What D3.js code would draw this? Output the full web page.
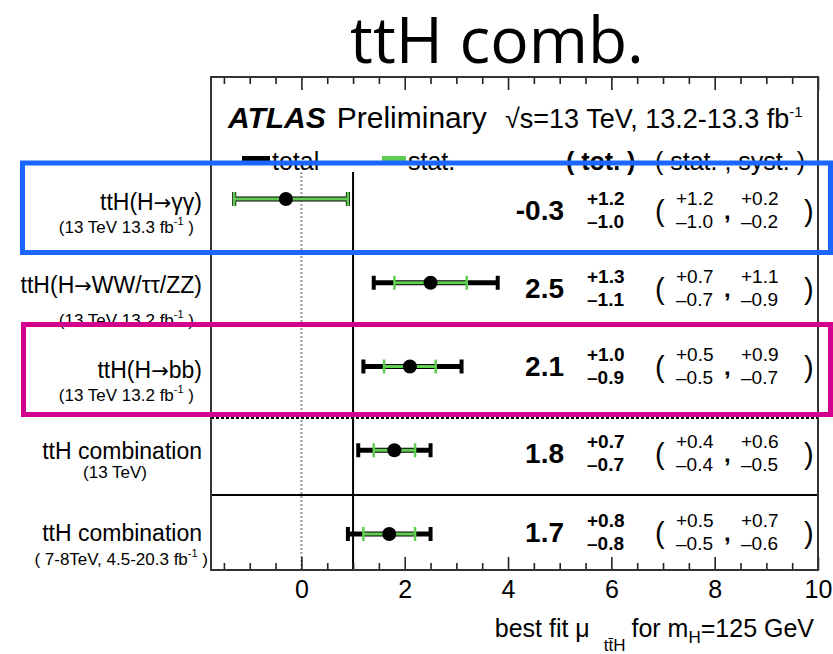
<!DOCTYPE html>
<html>
<head>
<meta charset="utf-8">
<script src="https://cdn.jsdelivr.net/npm/d3@7/dist/d3.min.js"></script>
<style>
  body { margin: 0; background: #fff; }
  svg { display: block; }
  text { font-family: "Liberation Sans", Arial, Helvetica, sans-serif; fill: #000; }
</style>
</head>
<body>
<svg id="chart" width="833" height="654"></svg>
<script>
// ttH signal-strength measurements, one row per channel
const channels = ["ttH(H→γγ)", "ttH(H→WW/ττ/ZZ)", "ttH(H→bb)", "ttH combination", "ttH combination"];
const channelNotes = ["(13 TeV 13.3 fb", "(13 TeV 13.2 fb", "(13 TeV 13.2 fb", "(13 TeV)", "( 7-8TeV, 4.5-20.3 fb"];
const noteHasLumi = [true, true, true, false, true];
const mu = [-0.3, 2.5, 2.1, 1.8, 1.7];
const totUp = [1.2, 1.3, 1.0, 0.7, 0.8];
const totDn = [1.0, 1.1, 0.9, 0.7, 0.8];
const statUp = [1.2, 0.7, 0.5, 0.4, 0.5];
const statDn = [1.0, 0.7, 0.5, 0.4, 0.5];
const systUp = [0.2, 1.1, 0.9, 0.6, 0.7];
const systDn = [0.2, 0.9, 0.7, 0.5, 0.6];
const majorTicks = [0, 2, 4, 6, 8, 10];
const minorTicks = [-1.5, -1, -0.5, 0.5, 1, 1.5, 2.5, 3, 3.5, 4.5, 5, 5.5, 6.5, 7, 7.5, 8.5, 9, 9.5];

// text placement tweaks per row (pixels, relative to the row centre)
const labelDy = [11, 10, 11, 9, 7];
const noteDy = [34, 43, 34, 28, 31];
const noteEnd = [194, 194, 194, 147, 208];
const valueDy = [21, 15, 9.5, 12.75, 8];

const fmt = v => v.toFixed(1);
const svg = d3.select("#chart");
const W = 833, H = 654;
const frame = { left: 211, right: 818, top: 77, bottom: 570 };

const x = d3.scaleLinear().domain([-1.75, 10]).range([frame.left, frame.right]);
const y = d3.scalePoint().domain(d3.range(channels.length)).range([199, 534]);

svg.append("rect").attr("width", W).attr("height", H).attr("fill", "#fff");

// title
svg.append("text")
  .attr("x", 497).attr("y", 63)
  .attr("text-anchor", "middle")
  .style("font-family", "'Open Sans', Lato, sans-serif")
  .style("font-size", "64px")
  .text("ttH comb.");

// reference lines at mu = 0 and mu = 1
svg.append("line")
  .attr("x1", x(0)).attr("x2", x(0)).attr("y1", 172).attr("y2", frame.bottom)
  .attr("stroke", "#999").attr("stroke-width", 2).attr("stroke-dasharray", "2,2");
svg.append("line")
  .attr("x1", x(1)).attr("x2", x(1)).attr("y1", 172).attr("y2", frame.bottom)
  .attr("stroke", "#000").attr("stroke-width", 2);

// row separators
svg.append("line")
  .attr("x1", frame.left).attr("x2", frame.right).attr("y1", 418).attr("y2", 418)
  .attr("stroke", "#000").attr("stroke-width", 2).attr("stroke-dasharray", "3,2");
svg.append("line")
  .attr("x1", frame.left).attr("x2", frame.right).attr("y1", 495).attr("y2", 495)
  .attr("stroke", "#000").attr("stroke-width", 2);

// axes: ticks drawn inward on bottom and top
function styleAxis(g) {
  g.select(".domain").remove();
  g.selectAll(".tick line").attr("stroke", "#222").attr("stroke-width", 1.6);
}
svg.append("g").attr("transform", `translate(0,${frame.bottom})`)
  .call(d3.axisBottom(x).tickValues(majorTicks).tickSizeInner(-13).tickSizeOuter(0).tickPadding(10).tickFormat(d3.format("d")))
  .call(styleAxis)
  .call(g => g.selectAll(".tick text").style("font-size", "25px").style("font-family", "'Liberation Sans', Arial, sans-serif").attr("fill", "#000"));
svg.append("g").attr("transform", `translate(0,${frame.bottom})`)
  .call(d3.axisBottom(x).tickValues(minorTicks).tickSizeInner(-7).tickSizeOuter(0).tickFormat(""))
  .call(styleAxis);
svg.append("g").attr("transform", `translate(0,${frame.top})`)
  .call(d3.axisTop(x).tickValues(majorTicks).tickSizeInner(-13).tickSizeOuter(0).tickFormat(""))
  .call(styleAxis);
svg.append("g").attr("transform", `translate(0,${frame.top})`)
  .call(d3.axisTop(x).tickValues(minorTicks).tickSizeInner(-7).tickSizeOuter(0).tickFormat(""))
  .call(styleAxis);

// frame
svg.append("rect")
  .attr("x", frame.left).attr("y", frame.top)
  .attr("width", frame.right - frame.left).attr("height", frame.bottom - frame.top)
  .attr("fill", "none").attr("stroke", "#333").attr("stroke-width", 2);

// axis title
const xt = svg.append("text").attr("x", 814).attr("y", 637).attr("text-anchor", "end").style("font-size", "25px");
xt.append("tspan").text("best fit μ");
xt.append("tspan").attr("dx", 14).attr("dy", 14).style("font-size", "17px").text("tt̄H");
xt.append("tspan").attr("dx", 6).attr("dy", -14).text("for m");
xt.append("tspan").attr("dy", 6).style("font-size", "17px").text("H");
xt.append("tspan").attr("dy", -6).text("=125 GeV");

// header
const hdr = svg.append("text").attr("x", 228).attr("y", 128).style("font-size", "30px");
hdr.append("tspan").style("font-weight", "bold").style("font-style", "italic").text("ATLAS");
hdr.append("tspan").attr("dx", 11).text("Preliminary");
const lum = svg.append("text").attr("x", 505).attr("y", 128).style("font-size", "27px");
lum.append("tspan").text("√s=13 TeV, 13.2-13.3 fb");
lum.append("tspan").attr("dy", -11).style("font-size", "15px").text("-1");

// legend
svg.append("rect").attr("x", 242).attr("y", 156).attr("width", 28).attr("height", 5).attr("fill", "#000");
svg.append("text").attr("x", 272).attr("y", 170).style("font-size", "25px").text("total");
svg.append("rect").attr("x", 382).attr("y", 156).attr("width", 24).attr("height", 5).attr("fill", "#5fcd4f");
svg.append("text").attr("x", 408).attr("y", 170).style("font-size", "25px").text("stat.");
svg.append("text").attr("x", 566).attr("y", 170).style("font-size", "25px").style("font-weight", "bold").text("( tot. )");
svg.append("text").attr("x", 655).attr("y", 170).style("font-size", "25px").text("( stat. , syst. )");

// measurement rows
const rows = svg.append("g").selectAll("g").data(d3.range(channels.length)).join("g");

// total uncertainty (black)
rows.append("line")
  .attr("x1", i => x(mu[i] - totDn[i])).attr("x2", i => x(mu[i] + totUp[i]))
  .attr("y1", i => y(i)).attr("y2", i => y(i))
  .attr("stroke", "#000").attr("stroke-width", 5);
rows.selectAll(".tcap").data(i => [[i, mu[i] - totDn[i]], [i, mu[i] + totUp[i]]]).join("line")
  .attr("x1", d => x(d[1])).attr("x2", d => x(d[1]))
  .attr("y1", d => y(d[0]) - 7).attr("y2", d => y(d[0]) + 7)
  .attr("stroke", "#000").attr("stroke-width", 4);

// statistical uncertainty (green)
rows.append("line")
  .attr("x1", i => x(mu[i] - statDn[i])).attr("x2", i => x(mu[i] + statUp[i]))
  .attr("y1", i => y(i)).attr("y2", i => y(i))
  .attr("stroke", "#5fcd4f").attr("stroke-width", 3);
rows.selectAll(".scap").data(i => [[i, mu[i] - statDn[i]], [i, mu[i] + statUp[i]]]).join("line")
  .attr("x1", d => x(d[1])).attr("x2", d => x(d[1]))
  .attr("y1", d => y(d[0]) - 7).attr("y2", d => y(d[0]) + 7)
  .attr("stroke", "#5fcd4f").attr("stroke-width", 2.5);

// central value
rows.append("circle")
  .attr("cx", i => x(mu[i])).attr("cy", i => y(i)).attr("r", 7).attr("fill", "#000");

// channel labels (the decay arrow is set in DejaVu, which has a full-width arrow glyph)
rows.each(function(i) {
  const t = d3.select(this).append("text")
    .attr("x", 202).attr("y", y(i) + labelDy[i])
    .attr("text-anchor", "end").style("font-size", "23px");
  const parts = channels[i].split("→");
  parts.forEach((p, k) => {
    if (k > 0) t.append("tspan").style("font-family", "'DejaVu Sans', sans-serif").style("font-size", "21px").text("→");
    t.append("tspan").text(p);
  });
});
rows.each(function(i) {
  const t = d3.select(this).append("text")
    .attr("x", noteEnd[i]).attr("y", y(i) + noteDy[i])
    .attr("text-anchor", "end").style("font-size", "17px").attr("fill", "#222");
  t.append("tspan").text(channelNotes[i]);
  if (noteHasLumi[i]) {
    t.append("tspan").attr("dy", -8).style("font-size", "11px").text("-1");
    t.append("tspan").attr("dy", 8).text(" )");
  }
});

// numeric results
rows.append("text")
  .attr("x", 564).attr("y", i => y(i) + valueDy[i])
  .attr("text-anchor", "end").style("font-size", "28px").style("font-weight", "bold")
  .text(i => fmt(mu[i]));
rows.append("text")
  .attr("x", 587).attr("y", i => y(i) + valueDy[i] - 15)
  .style("font-size", "19px").style("font-weight", "bold")
  .text(i => "+" + fmt(totUp[i]));
rows.append("text")
  .attr("x", 587).attr("y", i => y(i) + valueDy[i] + 8)
  .style("font-size", "19px").style("font-weight", "bold")
  .text(i => "–" + fmt(totDn[i]));
rows.append("text")
  .attr("x", 655).attr("y", i => y(i) + valueDy[i] + 1)
  .style("font-size", "29px").text("(");
rows.append("text")
  .attr("x", 676).attr("y", i => y(i) + valueDy[i] - 15)
  .style("font-size", "19px").text(i => "+" + fmt(statUp[i]));
rows.append("text")
  .attr("x", 676).attr("y", i => y(i) + valueDy[i] + 8)
  .style("font-size", "19px").text(i => "–" + fmt(statDn[i]));
rows.append("text")
  .attr("x", 724).attr("y", i => y(i) + valueDy[i] - 1)
  .style("font-size", "24px").style("font-weight", "bold").text(",");
rows.append("text")
  .attr("x", 741).attr("y", i => y(i) + valueDy[i] - 15)
  .style("font-size", "19px").text(i => "+" + fmt(systUp[i]));
rows.append("text")
  .attr("x", 741).attr("y", i => y(i) + valueDy[i] + 8)
  .style("font-size", "19px").text(i => "–" + fmt(systDn[i]));
rows.append("text")
  .attr("x", 804).attr("y", i => y(i) + valueDy[i] + 1)
  .style("font-size", "29px").text(")");

// highlight boxes
svg.append("rect")
  .attr("x", 22.5).attr("y", 163).attr("width", 808).attr("height", 89.5)
  .attr("fill", "none").attr("stroke", "#1a66ff").attr("stroke-width", 5);
svg.append("rect")
  .attr("x", 23.5).attr("y", 324.5).attr("width", 807).attr("height", 90)
  .attr("fill", "none").attr("stroke", "#d4008e").attr("stroke-width", 5);
</script>
</body>
</html>
